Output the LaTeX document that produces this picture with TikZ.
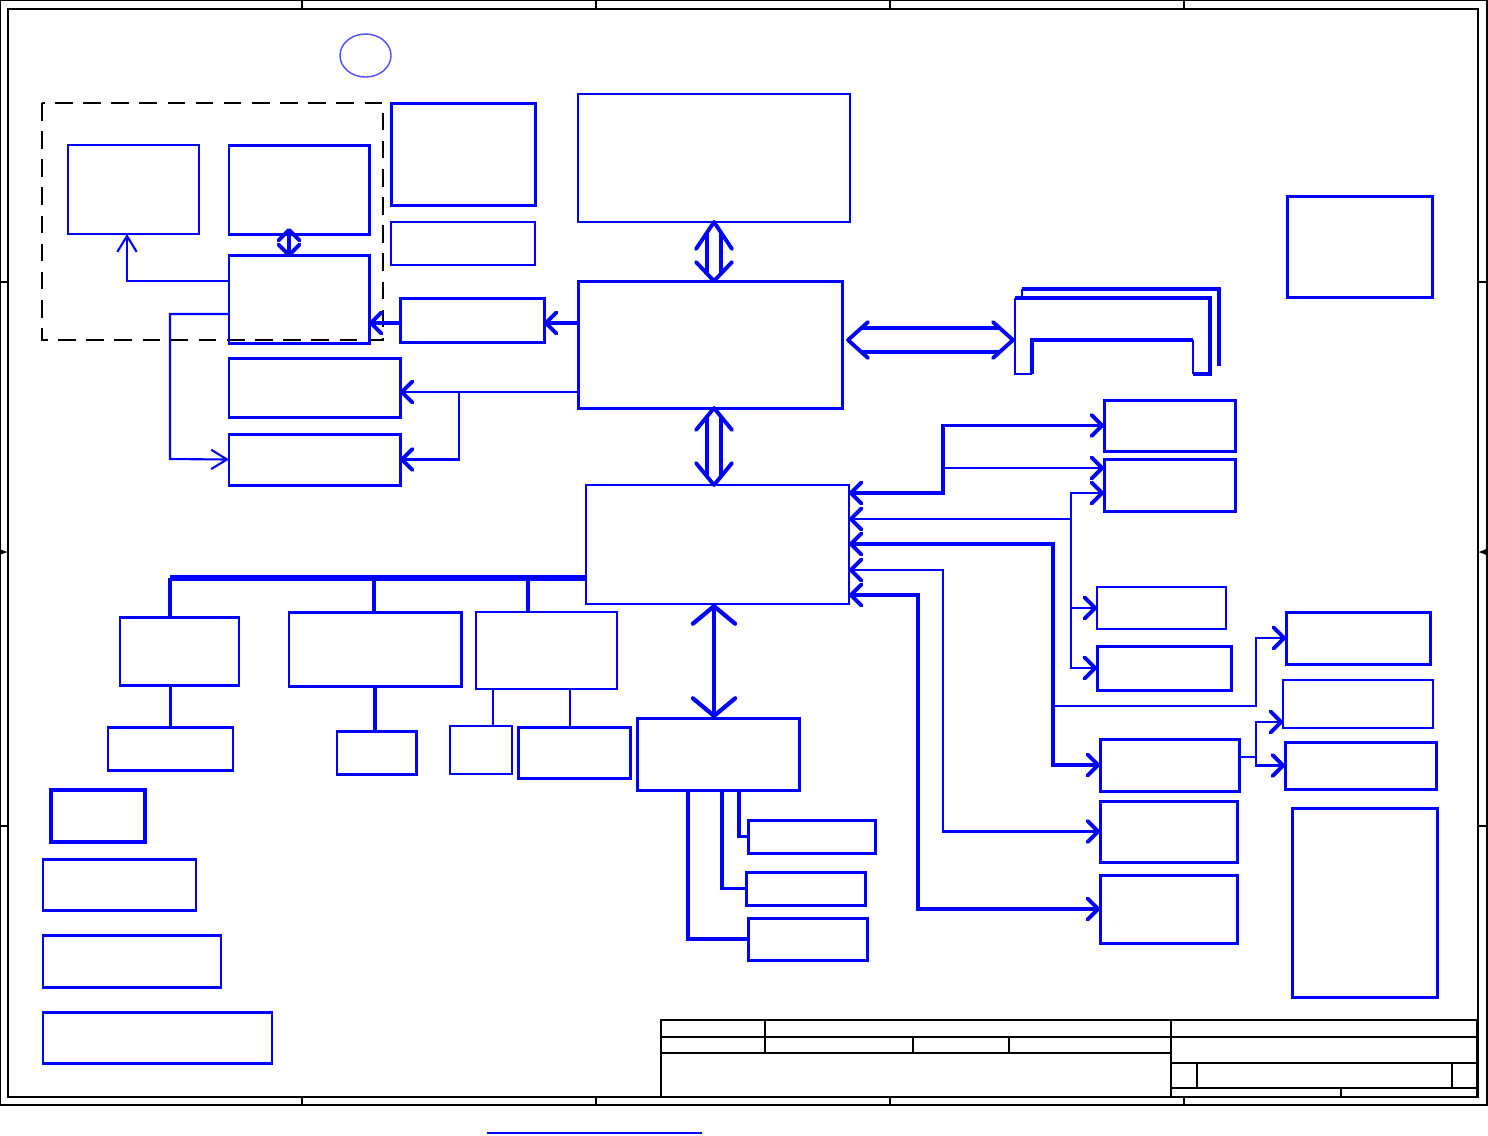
\documentclass[tikz,border=0pt]{standalone}
\usepackage{xcolor}
\usepackage{tikz}
\usetikzlibrary{arrows.meta,positioning,fit}
\definecolor{schblue}{HTML}{0000FF}
\definecolor{ringblue}{HTML}{4D4DFF}
\tikzset{
  blk/.style={rectangle, draw=schblue, line width=0.85pt,
    inner sep=0pt, outer sep=0pt},
  blkthin/.style={blk, line width=0.6pt},
  blkheavy/.style={blk, line width=1.15pt},
  sig/.style={draw=schblue, line width=1pt,
    >={Straight Barb[length=3pt,width=6pt,round,line width=1.1pt]}},
  sigthin/.style={sig, line width=0.6pt},
  sigshort/.style={draw=schblue, line width=1pt,
    >={Straight Barb[length=3pt,width=6pt,round,line width=1.1pt]}},
  sigopen/.style={draw=schblue, line width=0.6pt,
    >={Straight Barb[length=4.5pt,width=5.5pt]}},
  busline/.style={draw=schblue, line width=1.1pt, double=white,
    double distance=#1},
  busline/.default=0.1cm,
  bushead/.style={draw=schblue, line width=1.1pt, line cap=round,
    line join=round},
  bigarrow/.style={draw=schblue, line width=1.2pt,
    >={Straight Barb[length=5pt,width=12pt,round]}},
  busbar/.style={draw=schblue, line width=1.5pt},
  slotline/.style={draw=schblue, line width=1pt},
  frameline/.style={draw=black, line width=0.5pt},
}

\begin{document}
\begin{tikzpicture}[x=0.01cm, y=-0.01cm]
\useasboundingbox (0,0) rectangle (1488,1135);

% sheet frame
\draw[frameline] (0.5,0.5) rectangle (1487,1105);
\draw[frameline] (8,9) rectangle (1478,1097);
\foreach \gx in {302,596,890,1184} {
  \draw[frameline] (\gx,0.5) -- (\gx,9);
  \draw[frameline] (\gx,1097) -- (\gx,1105);
}
\foreach \gy in {282,826} {
  \draw[frameline] (0.5,\gy) -- (8,\gy);
  \draw[frameline] (1478,\gy) -- (1487,\gy);
}
\draw[frameline,-{Latex[length=3pt,width=2.5pt]}] (0.5,552) -- (8,552);
\draw[frameline,-{Latex[length=3pt,width=2.5pt]}] (1487,552) -- (1478,552);

% title block
\draw[frameline] (661,1020) rectangle (1477,1097);
\draw[frameline] (661,1037) -- (1477,1037);
\draw[frameline] (661,1053) -- (1171,1053);
\draw[frameline] (765,1020) -- (765,1053);
\draw[frameline] (913,1037) -- (913,1053);
\draw[frameline] (1009,1037) -- (1009,1053);
\draw[frameline] (1171,1020) -- (1171,1097);
\draw[frameline] (1171,1063) -- (1477,1063);
\draw[frameline] (1171,1088) -- (1477,1088);
\draw[frameline] (1197,1063) -- (1197,1088);
\draw[frameline] (1452,1063) -- (1452,1088);
\draw[frameline] (1341,1088) -- (1341,1097);
\draw[schblue, line width=0.6pt] (487,1133) -- (702,1133);

% revision ring
\draw[ringblue, line width=0.4pt] (365.5,55.5) ellipse [x radius=0.255cm, y radius=0.215cm];

% video group
\draw[frameline, dash pattern=on 5pt off 3pt] (42,103) rectangle (383,340);
\node[blkthin, fit={(68,145) (199,234)}] (crt) {};
\node[blk, fit={(229,145) (369,234)}] (vram) {};
\node[blk, fit={(229,255) (369,343)}] (vga) {};
\node[blk, fit={(391,103) (535,205)}] (clkgen) {};
\node[blkthin, fit={(391,222) (535,265)}] (thermal) {};
\node[blk, fit={(400,298) (544,342)}] (agp) {};
\node[blk, fit={(229,358) (400,417)}] (lcd) {};
\node[blk, fit={(229,434) (400,485)}] (tvout) {};

% core chips
\node[blkthin, fit={(578,94) (850,222)}] (cpu) {};
\node[blk, fit={(578,281) (842,408)}] (nb) {};
\node[blkthin, fit={(586,485) (849,604)}] (sb) {};
\node[blk, fit={(1287,196) (1432,297)}] (pwrseq) {};

% memory slot
\draw[slotline, line width=1.2pt] (1022,289) -- (1219,289) -- (1219,366);
\draw[slotline, line width=0.6pt] (1022,289) -- (1022,298);
\draw[slotline, line width=1.2pt] (1015,298) -- (1210,298) -- (1210,374)
  -- (1193,374);
\draw[slotline, line width=0.6pt] (1193,374) -- (1193,340);
\draw[slotline] (1193,340) -- (1032,340) -- (1032,374);
\draw[slotline, line width=0.6pt] (1032,374) -- (1015,374) -- (1015,298);

% south bridge peripherals
\node[blk, fit={(1104,400) (1235,451)}] (usb) {};
\node[blk, fit={(1104,459) (1235,511)}] (lan) {};
\node[blkthin, fit={(1097,587) (1226,629)}] (mdc) {};
\node[blk, fit={(1097,646) (1231,690)}] (modem) {};
\node[blk, fit={(1286,612) (1430,664)}] (spk) {};
\node[blkthin, fit={(1283,680) (1433,728)}] (hp) {};
\node[blk, fit={(1285,742) (1436,789)}] (mic) {};
\node[blk, fit={(1100,739) (1239,791)}] (codec) {};
\node[blk, fit={(1100,801) (1237,862)}] (pcmcia) {};
\node[blk, fit={(1100,875) (1237,943)}] (minipci) {};
\node[blk, fit={(1292,808) (1437,997)}] (pwrtbl) {};

% lpc side
\node[blk, fit={(120,617) (239,685)}] (sio) {};
\node[blk, fit={(108,727) (233,770)}] (kbc) {};
\node[blk, fit={(289,612) (461,686)}] (ide) {};
\node[blk, fit={(337,731) (416,774)}] (hdd) {};
\node[blkthin, fit={(476,612) (617,689)}] (ec) {};
\node[blkthin, fit={(450,726) (512,774)}] (flash) {};
\node[blk, fit={(518,727) (630,778)}] (touch) {};
\node[blk, fit={(637,718) (799,790)}] (cardbus) {};
\node[blk, fit={(748,820) (875,853)}] (slota) {};
\node[blk, fit={(746,872) (865,905)}] (slotb) {};
\node[blk, fit={(748,918) (867,960)}] (slotc) {};

% power blocks
\node[blkheavy, fit={(51,790) (145,842)}] (dcin) {};
\node[blk, fit={(43,859) (196,910)}] (batt) {};
\node[blk, fit={(43,935) (221,987)}] (charger) {};
\node[blk, fit={(43,1012) (272,1063)}] (dcdc) {};

% video links
\draw[sigshort,<->] ([yshift=0.06cm]vram.south -| 289,0) -- ([yshift=-0.02cm]vga.north -| 289,0);
\draw[sigopen,->] (vga.west |- 0,281) -| (crt.south -| 127,0);
\draw[sigopen,->] (vga.west |- 0,314) -| (170,459) -- (tvout.west);
\draw[sig,->] (nb.west |- 0,323) -- (agp.east |- 0,323);
\draw[sig,->] (agp.west |- 0,323) -- (vga.east |- 0,323);
\draw[sigthin,->] (nb.west |- 0,392) -- (lcd.east |- 0,392);
\draw[sigthin,->] (459,392) |- (tvout.east);

% host and memory buses
\coordinate (cpubus) at (cpu.south -| 714,0);
\coordinate (nbtop) at (nb.north -| 714,0);
\coordinate (nbbot) at (nb.south -| 714,0);
\coordinate (sbtop) at (sb.north -| 714,0);
\coordinate (sbbot) at (sb.south -| 714,0);
\coordinate (nbright) at (848,340);
\coordinate (dimm) at (1013,340);
\draw[busline] ([shift={(0,10)}]cpubus) -- ([shift={(0,-8)}]nbtop);
\draw[bushead] ([shift={(-18,27)}]cpubus) -- (cpubus) -- ([shift={(18,27)}]cpubus);
\draw[bushead] ([shift={(-18,-19)}]nbtop) -- (nbtop) -- ([shift={(18,-19)}]nbtop);
\draw[busline] ([shift={(0,8)}]nbbot) -- ([shift={(0,-8)}]sbtop);
\draw[bushead] ([shift={(-18,22)}]nbbot) -- (nbbot) -- ([shift={(18,22)}]nbbot);
\draw[bushead] ([shift={(-18,-22)}]sbtop) -- (sbtop) -- ([shift={(18,-22)}]sbtop);
\draw[busline=0.2cm] ([shift={(13,0)}]nbright) -- ([shift={(-13,0)}]dimm);
\draw[bushead] ([shift={(20,-18)}]nbright) -- (nbright) -- ([shift={(20,18)}]nbright);
\draw[bushead] ([shift={(-20,-18)}]dimm) -- (dimm) -- ([shift={(-20,18)}]dimm);
\draw[bigarrow,<->] (sbbot) -- (sbbot |- cardbus.north);

% lpc bus
\draw[busbar] (sb.west |- 0,578) -- (170,578);
\draw[sig] (170,578) -- (sio.north -| 170,0);
\draw[sig] (374,578) -- (ide.north -| 374,0);
\draw[sig] (528,578) -- (ec.north -| 528,0);
\draw[sig] (kbc.north |- sio.south) -- (kbc.north);
\draw[sig] (ide.south) -- (hdd.north -| ide.south);
\draw[sigthin] (ec.south -| 493,0) -- (flash.north -| 493,0);
\draw[sigthin] (ec.south -| 570,0) -- (touch.north -| 570,0);
\draw[sig] (cardbus.south -| 739,0) |- (slota.west);
\draw[sig] (cardbus.south -| 722,0) |- (slotb.west);
\draw[sig] (cardbus.south -| 688,0) |- (slotc.west);

% south bridge side links
\draw[sig,<->] (usb.west) -| (943,493) -- (sb.east |- 0,493);
\draw[sigthin,->] (943,468) -- (lan.west |- 0,468);
\draw[sigthin,<->] (lan.west |- 0,493) -| (1071,519) -- (sb.east |- 0,519);
\draw[sigthin,->] (1071,519) |- (mdc.west);
\draw[sigthin,->] (1071,519) |- (modem.west);
\draw[sig,<->] (codec.west) -| (1053,544) -- (sb.east |- 0,544);
\draw[sigthin,->] (1053,706) -| (1256,638) -- (spk.west);
\draw[sig,<->,line width=0.8pt] (pcmcia.west) -| (943,570) -- (sb.east |- 0,570);
\draw[sig,<->] (minipci.west) -| (918,595) -- (sb.east |- 0,595);
\draw[sigthin] (codec.east |- 0,757) -- (1256,757);
\draw[sigthin,->] (1256,757) |- (hp.west |- 0,722);
\draw[sigthin,->] (1256,757) |- (mic.west);
\end{tikzpicture}
\end{document}
